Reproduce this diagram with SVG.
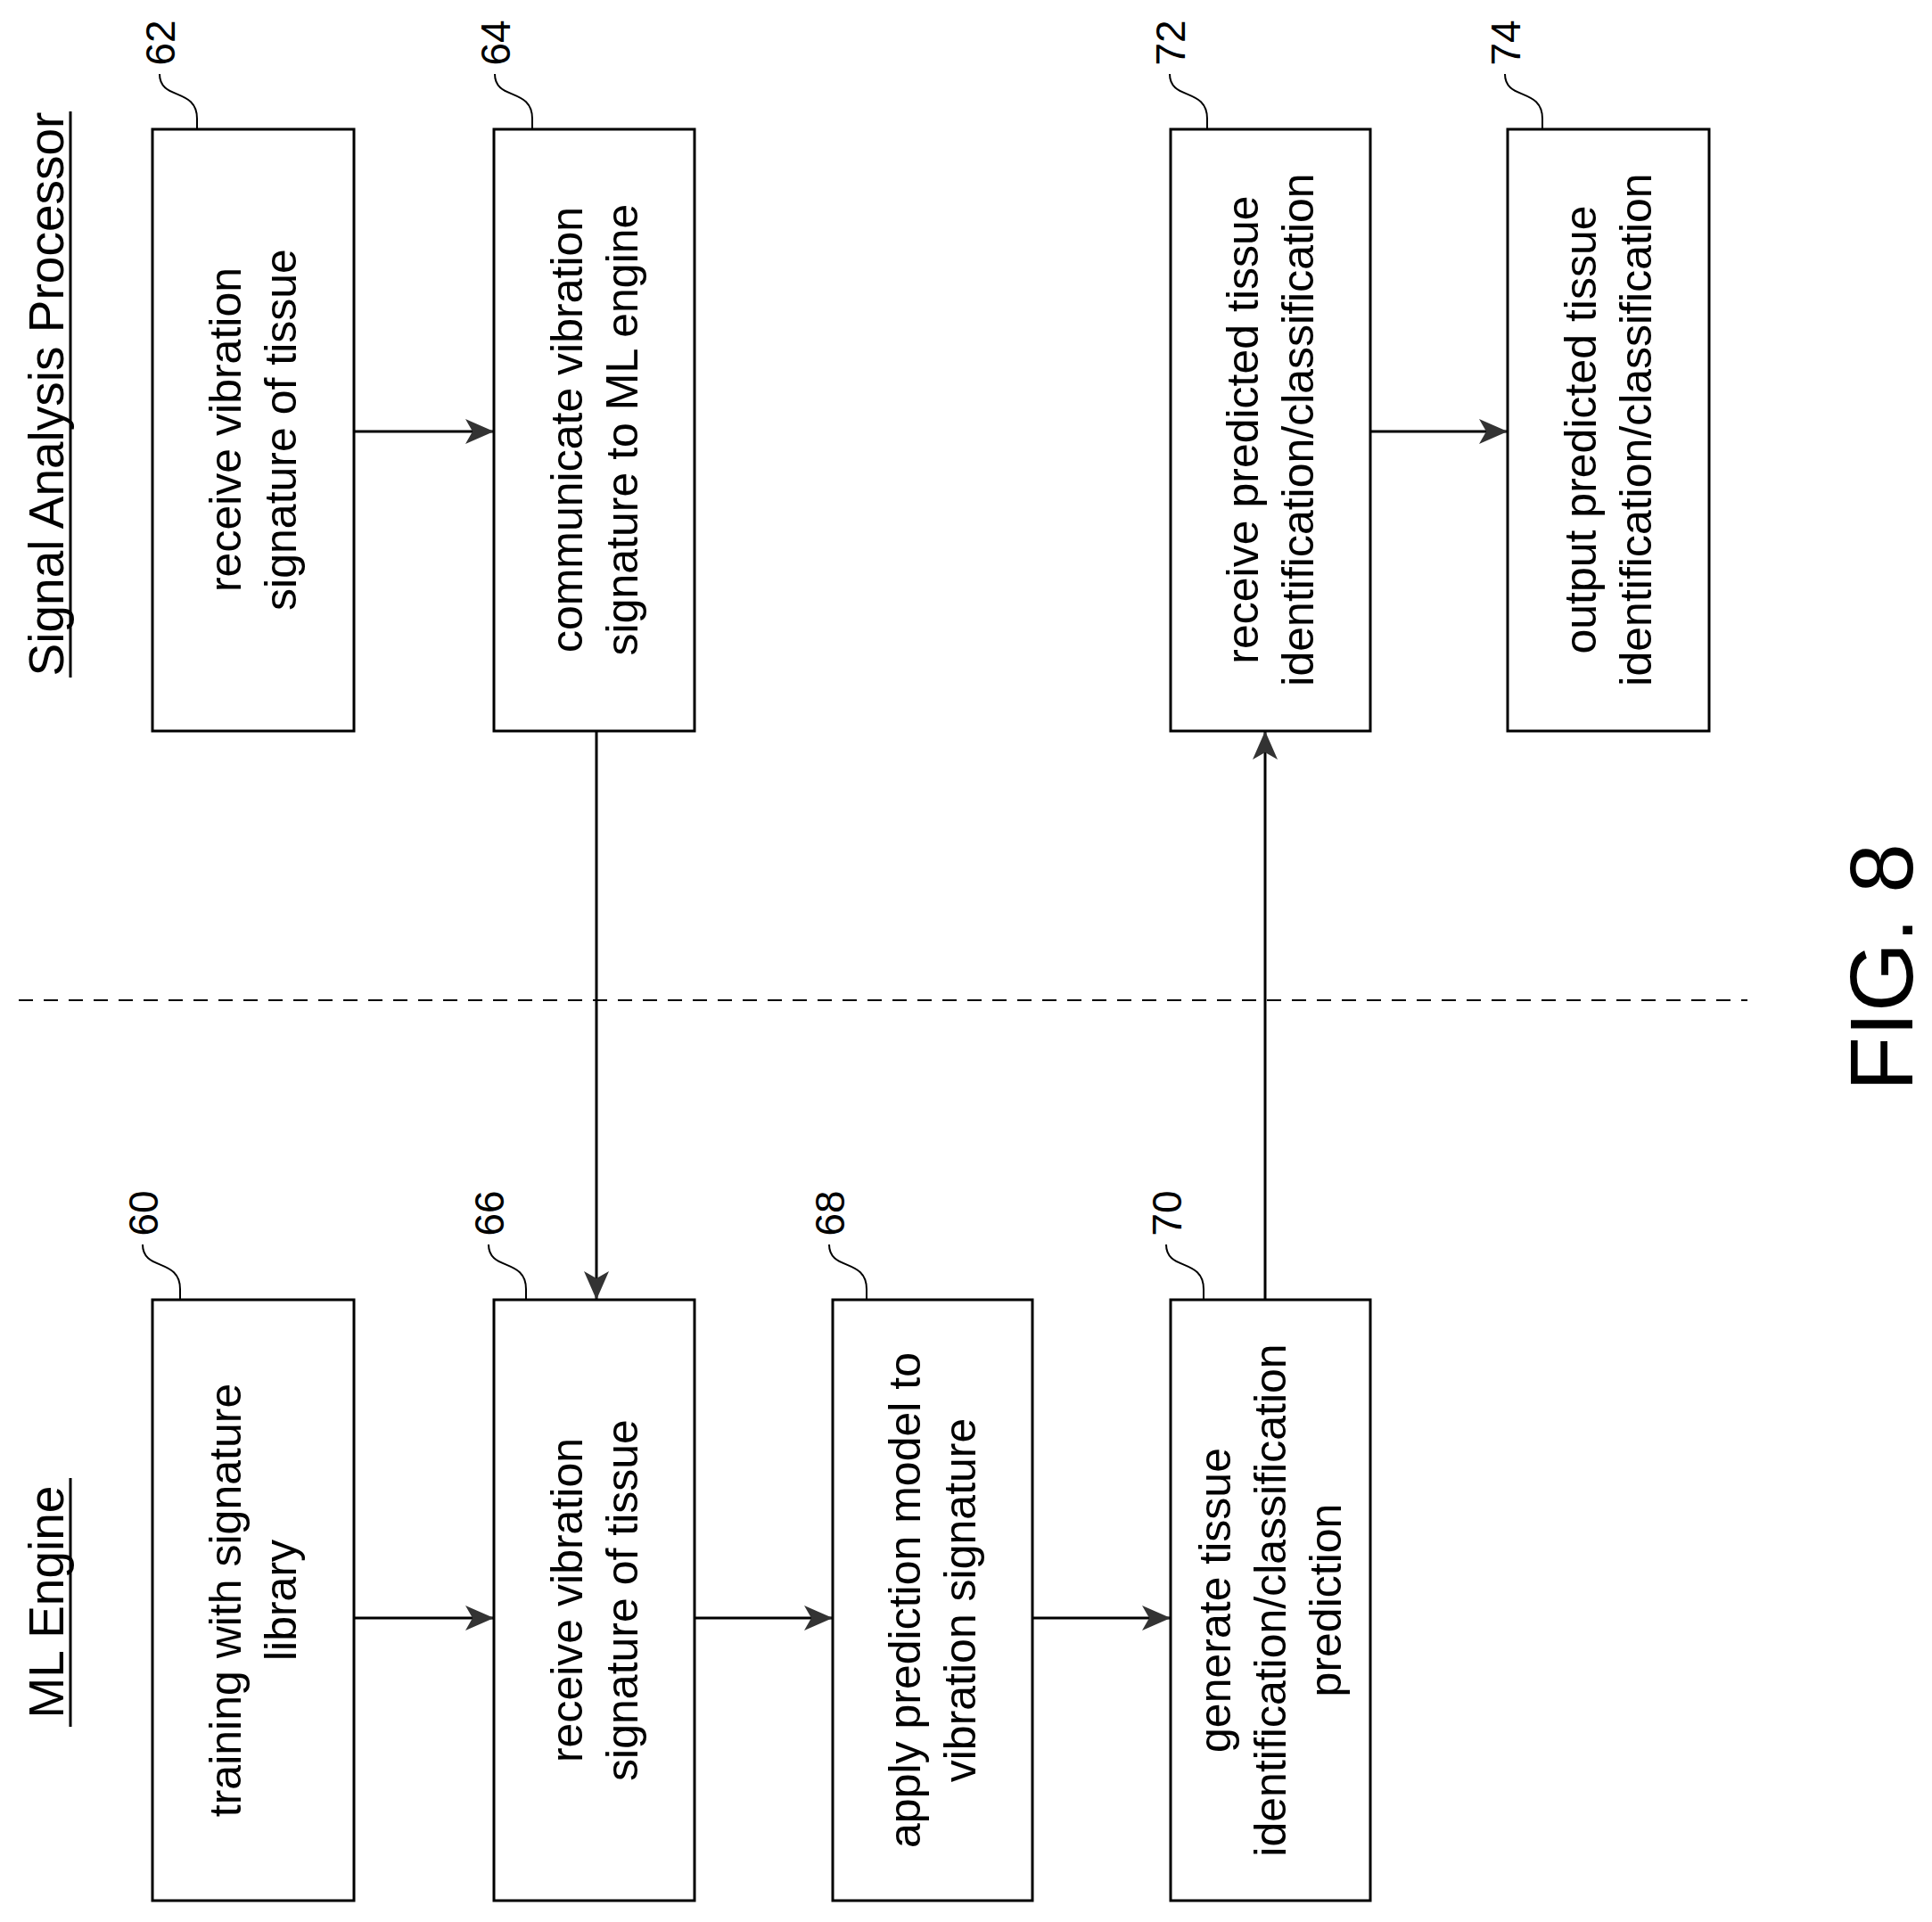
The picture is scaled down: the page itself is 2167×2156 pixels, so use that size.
<svg xmlns="http://www.w3.org/2000/svg" width="2167" height="2156" viewBox="0 0 2167 2156">
<style>
.box{fill:#fff;stroke:#000;stroke-width:3}
.t{font-family:"Liberation Sans",Arial,sans-serif;font-size:50px;text-anchor:middle;dominant-baseline:central;fill:#000}
.n{font-family:"Liberation Sans",Arial,sans-serif;font-size:46px;text-anchor:middle;dominant-baseline:central;fill:#000}
.h{font-family:"Liberation Sans",Arial,sans-serif;font-size:55px;text-anchor:middle;dominant-baseline:central;fill:#000}
.ld{fill:none;stroke:#000;stroke-width:2}
.c{fill:none;stroke:#000;stroke-width:3;marker-end:url(#a)}
</style>
<defs>
<marker id="a" markerUnits="userSpaceOnUse" markerWidth="34" markerHeight="28" refX="32" refY="14" orient="auto">
<path d="M0,0 L32,14 L0,28 L8,14 Z" fill="#333"/>
</marker>
</defs>
<rect width="2167" height="2156" fill="#fff"/>
<g id="headers">
<text class="h" transform="translate(52,442) rotate(-90)">Signal Analysis Processor</text>
<line x1="79" y1="125" x2="79" y2="760" stroke="#000" stroke-width="3"/>
<text class="h" transform="translate(52,1797) rotate(-90)">ML Engine</text>
<line x1="79" y1="1658" x2="79" y2="1937" stroke="#000" stroke-width="3"/>
<text transform="translate(2110,1085) rotate(-90)" font-family="Liberation Sans,Arial,sans-serif" font-size="100" text-anchor="middle" dominant-baseline="central">FIG. 8</text>
</g>
<line x1="21" y1="1122" x2="1960" y2="1122" stroke="#000" stroke-width="2" stroke-dasharray="16,12"/>
<g id="connectors">
<line class="c" x1="397" y1="484" x2="554" y2="484"/>
<line class="c" x1="1537" y1="484" x2="1691" y2="484"/>
<line class="c" x1="669" y1="820" x2="669" y2="1458"/>
<line class="c" x1="1419" y1="1458" x2="1419" y2="820"/>
<line class="c" x1="397" y1="1815" x2="554" y2="1815"/>
<line class="c" x1="779" y1="1815" x2="934" y2="1815"/>
<line class="c" x1="1158" y1="1815" x2="1313" y2="1815"/>
</g>
<g id="n62"><rect class="box" x="171" y="145" width="226" height="675"/>
<text class="t" transform="translate(253,482) rotate(-90)">receive vibration</text>
<text class="t" transform="translate(315,482) rotate(-90)">signature of tissue</text>
<path class="ld" d="M221,145 v-12 c0,-35 -42,-20 -42,-50"/><text class="n" transform="translate(180,48) rotate(-90)">62</text></g>
<g id="n64"><rect class="box" x="554" y="145" width="225" height="675"/>
<text class="t" transform="translate(636,482) rotate(-90)">communicate vibration</text>
<text class="t" transform="translate(698,482) rotate(-90)">signature to ML engine</text>
<path class="ld" d="M597,145 v-12 c0,-35 -42,-20 -42,-50"/><text class="n" transform="translate(556,48) rotate(-90)">64</text></g>
<g id="n72"><rect class="box" x="1313" y="145" width="224" height="675"/>
<text class="t" transform="translate(1394,482) rotate(-90)">receive predicted tissue</text>
<text class="t" transform="translate(1456,482) rotate(-90)">identification/classification</text>
<path class="ld" d="M1354,145 v-12 c0,-35 -42,-20 -42,-50"/><text class="n" transform="translate(1313,48) rotate(-90)">72</text></g>
<g id="n74"><rect class="box" x="1691" y="145" width="226" height="675"/>
<text class="t" transform="translate(1773,482) rotate(-90)">output predicted tissue</text>
<text class="t" transform="translate(1835,482) rotate(-90)">identification/classification</text>
<path class="ld" d="M1730,145 v-12 c0,-35 -42,-20 -42,-50"/><text class="n" transform="translate(1689,48) rotate(-90)">74</text></g>
<g id="n60"><rect class="box" x="171" y="1458" width="226" height="674"/>
<text class="t" transform="translate(253,1795) rotate(-90)">training with signature</text>
<text class="t" transform="translate(315,1795) rotate(-90)">library</text>
<path class="ld" d="M202,1458 v-12 c0,-35 -42,-20 -42,-50"/><text class="n" transform="translate(161,1361) rotate(-90)">60</text></g>
<g id="n66"><rect class="box" x="554" y="1458" width="225" height="674"/>
<text class="t" transform="translate(636,1795) rotate(-90)">receive vibration</text>
<text class="t" transform="translate(698,1795) rotate(-90)">signature of tissue</text>
<path class="ld" d="M590,1458 v-12 c0,-35 -42,-20 -42,-50"/><text class="n" transform="translate(549,1361) rotate(-90)">66</text></g>
<g id="n68"><rect class="box" x="934" y="1458" width="224" height="674"/>
<text class="t" transform="translate(1015,1795) rotate(-90)">apply prediction model to</text>
<text class="t" transform="translate(1077,1795) rotate(-90)">vibration signature</text>
<path class="ld" d="M972,1458 v-12 c0,-35 -42,-20 -42,-50"/><text class="n" transform="translate(931,1361) rotate(-90)">68</text></g>
<g id="n70"><rect class="box" x="1313" y="1458" width="224" height="674"/>
<text class="t" transform="translate(1363,1795) rotate(-90)">generate tissue</text>
<text class="t" transform="translate(1425,1795) rotate(-90)">identification/classification</text>
<text class="t" transform="translate(1487,1795) rotate(-90)">prediction</text>
<path class="ld" d="M1350,1458 v-12 c0,-35 -42,-20 -42,-50"/><text class="n" transform="translate(1309,1361) rotate(-90)">70</text></g>
</svg>
